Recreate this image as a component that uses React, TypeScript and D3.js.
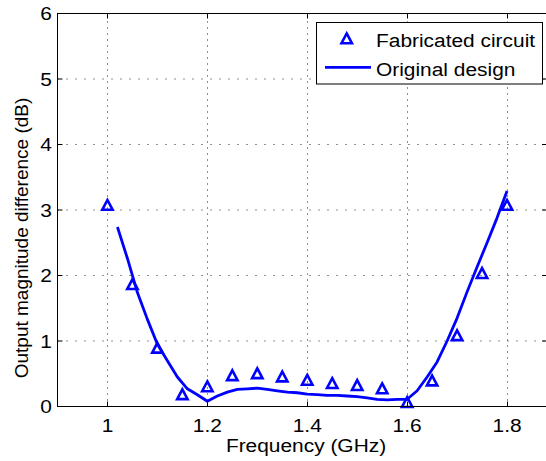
import React, { useEffect, useRef } from 'react';
import * as d3 from 'd3';

// measured points (triangles)
const measFreq = [1.0, 1.05, 1.1, 1.15, 1.2, 1.25, 1.3, 1.35, 1.4, 1.45, 1.5, 1.55, 1.6, 1.65, 1.7, 1.75, 1.8];
const measDiff = [3.07, 1.86, 0.89, 0.18, 0.3, 0.47, 0.5, 0.45, 0.4, 0.35, 0.32, 0.27, 0.06, 0.39, 1.08, 2.03, 3.07];

// original design curve
const designFreq = [
  1.02, 1.04, 1.06, 1.08, 1.1, 1.12, 1.14, 1.16, 1.18, 1.2, 1.22, 1.24, 1.26, 1.28, 1.3, 1.32, 1.34, 1.36, 1.38, 1.4,
  1.42, 1.44, 1.46, 1.48, 1.5, 1.52, 1.54, 1.56, 1.58, 1.6, 1.62, 1.64, 1.66, 1.68, 1.7, 1.72, 1.74, 1.76, 1.78, 1.8,
];
const designDiff = [
  2.74, 2.26, 1.74, 1.33, 0.95, 0.7, 0.45, 0.27, 0.18, 0.08, 0.16, 0.22, 0.26, 0.27, 0.28, 0.26, 0.24, 0.22, 0.21, 0.19,
  0.18, 0.17, 0.17, 0.16, 0.15, 0.13, 0.11, 0.1, 0.11, 0.11, 0.24, 0.45, 0.68, 1.0, 1.35, 1.75, 2.13, 2.5, 2.88, 3.29,
];

const xTicks = [1, 1.2, 1.4, 1.6, 1.8];
const yTicks = [0, 1, 2, 3, 4, 5, 6];
const legendLabels = ['Fabricated circuit', 'Original design'];

const width = 546;
const height = 461;
const blue = '#0000ff';
const font = 'Arial, "Liberation Sans", Helvetica, sans-serif';
const fs = 19;
const stretch = 1.1;

const App = () => {
  const ref = useRef<SVGSVGElement>(null);

  useEffect(() => {
    const svg = d3.select(ref.current);
    svg.selectAll('*').remove();

    const x = d3.scaleLinear().domain([0.9, 1.88]).range([57.5, 547]);
    const y = d3.scaleLinear().domain([0, 6]).range([406.5, 13.5]);
    const [x0, x1] = x.range();
    const [y0, y1] = y.range();

    svg.append('rect').attr('width', width).attr('height', height).attr('fill', '#fff');

    // grid
    const grid = svg.append('g').attr('stroke', '#222').attr('stroke-width', 1);
    grid.selectAll('.gx')
      .data(xTicks)
      .join('line')
      .attr('x1', d => Math.round(x(d)) + 0.5)
      .attr('x2', d => Math.round(x(d)) + 0.5)
      .attr('y1', y0)
      .attr('y2', y1)
      .attr('stroke-dasharray', '1,5');
    grid.selectAll('.gy')
      .data(yTicks.filter(d => d > 0 && d < 6))
      .join('line')
      .attr('y1', d => y(d))
      .attr('y2', d => y(d))
      .attr('x1', x0)
      .attr('x2', x1)
      .attr('stroke-dasharray', '1,8');

    // ticks (inward, both sides)
    const ticks = svg.append('g').attr('stroke', '#000').attr('stroke-width', 1);
    xTicks.forEach(t => {
      const px = Math.round(x(t)) + 0.5;
      ticks.append('line').attr('x1', px).attr('x2', px).attr('y1', y0).attr('y2', y0 - 5);
      ticks.append('line').attr('x1', px).attr('x2', px).attr('y1', y1).attr('y2', y1 + 5);
    });
    yTicks.forEach(t => {
      ticks.append('line').attr('x1', x0).attr('x2', x0 + 5).attr('y1', y(t)).attr('y2', y(t));
      ticks.append('line').attr('x1', x1).attr('x2', x1 - 5).attr('y1', y(t)).attr('y2', y(t));
    });

    // design line
    const line = d3.line<number>()
      .x((d, i) => x(designFreq[i]))
      .y(d => y(d));
    svg.append('path')
      .datum(designDiff)
      .attr('d', line)
      .attr('fill', 'none')
      .attr('stroke', blue)
      .attr('stroke-width', 2.8)
      .attr('stroke-linejoin', 'round');

    // triangles
    const tri = 'M0,-5.4L5.2,4.4L-5.2,4.4Z';
    svg.append('g')
      .selectAll('path')
      .data(measDiff)
      .join('path')
      .attr('transform', (d, i) => `translate(${x(measFreq[i])},${y(d)})`)
      .attr('d', tri)
      .attr('fill', 'none')
      .attr('stroke', blue)
      .attr('stroke-width', 2.6)
      .attr('stroke-linejoin', 'miter');

    // axes box
    svg.append('rect')
      .attr('x', x0)
      .attr('y', y1)
      .attr('width', x1 - x0)
      .attr('height', y0 - y1)
      .attr('fill', 'none')
      .attr('stroke', '#000')
      .attr('stroke-width', 1);

    const txt = (s: string, tx: number, ty: number, anchor: string) =>
      svg.append('text')
        .attr('transform', `translate(${tx},${ty}) scale(${stretch},1)`)
        .attr('text-anchor', anchor)
        .attr('font-family', font)
        .attr('font-size', fs)
        .attr('fill', '#000')
        .text(s);

    xTicks.forEach(t => txt(String(t), x(t), 432, 'middle'));
    yTicks.forEach(t => txt(String(t), 52, y(t) + 6.8, 'end'));
    txt('Frequency (GHz)', 306, 452, 'middle');

    svg.append('text')
      .attr('transform', 'translate(28,238) rotate(-90)')
      .attr('text-anchor', 'middle')
      .attr('font-family', font)
      .attr('font-size', fs)
      .text('Output magnitude difference (dB)');

    // legend
    const lg = svg.append('g');
    lg.append('rect')
      .attr('x', 316.5)
      .attr('y', 22.5)
      .attr('width', 226)
      .attr('height', 61.5)
      .attr('fill', '#fff')
      .attr('stroke', '#000')
      .attr('stroke-width', 1);
    lg.append('path')
      .attr('transform', 'translate(346.7,38.8)')
      .attr('d', tri)
      .attr('fill', 'none')
      .attr('stroke', blue)
      .attr('stroke-width', 2.6);
    lg.append('line')
      .attr('x1', 325)
      .attr('x2', 371)
      .attr('y1', 67.3)
      .attr('y2', 67.3)
      .attr('stroke', blue)
      .attr('stroke-width', 2.8);
    legendLabels.forEach((s, i) => {
      lg.append('text')
        .attr('transform', `translate(376,${46.5 + i * 29}) scale(${stretch},1)`)
        .attr('font-family', font)
        .attr('font-size', fs)
        .text(s);
    });
  }, []);

  return (
    <svg
      ref={ref}
      width={width}
      height={height}
      style={{ position: 'absolute', left: 0, top: 0, display: 'block' }}
    />
  );
};

export default App;
